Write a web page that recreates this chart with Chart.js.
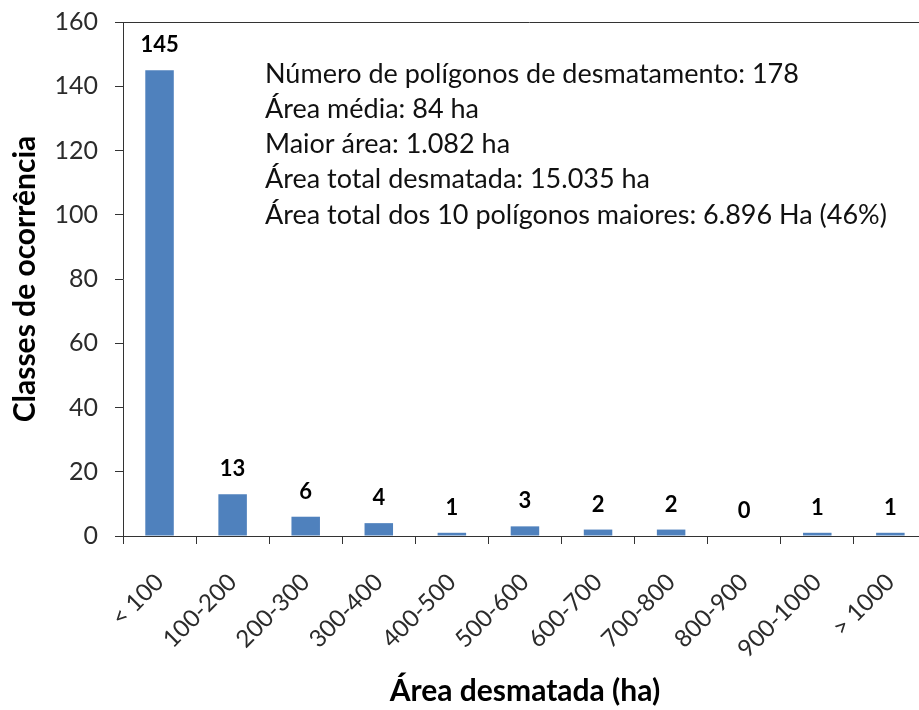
<!DOCTYPE html>
<html>
<head>
<meta charset="utf-8">
<script src="https://cdn.jsdelivr.net/npm/chart.js@4.4.1/dist/chart.umd.min.js"></script>
<style>
  html, body { margin: 0; padding: 0; background: #fff; overflow: hidden; }
  #wrap { width: 935px; height: 710px; }
</style>
</head>
<body>
<div id="wrap"><canvas id="chart"></canvas></div>
<script>
// classes de área (ha) e número de polígonos em cada classe
const categories = ["< 100", "100-200", "200-300", "300-400", "400-500", "500-600",
                    "600-700", "700-800", "800-900", "900-1000", "> 1000"];
const counts = [145, 13, 6, 4, 1, 3, 2, 2, 0, 1, 1];
const yMax = 160;
const yStep = 20;
const notes = [
  "Número de polígonos de desmatamento: 178",
  "Área média: 84 ha",
  "Maior área: 1.082 ha",
  "Área total desmatada: 15.035 ha",
  "Área total dos 10 polígonos maiores: 6.896 Ha (46%)",
];

const axisColor = "#333";
const textColor = "#2b2b2b";

const extras = {
  id: "extras",
  afterDraw(chart) {
    const { ctx, chartArea: a } = chart;
    ctx.save();
    // top frame line
    ctx.strokeStyle = axisColor;
    ctx.lineWidth = 1;
    ctx.beginPath();
    ctx.moveTo(a.left, a.top + 0.5);
    ctx.lineTo(a.right + 10, a.top + 0.5);
    ctx.stroke();

    // value labels above bars
    const meta = chart.getDatasetMeta(0);
    ctx.font = "bold 22px Lato";
    ctx.fillStyle = "#000";
    ctx.textAlign = "center";
    ctx.textBaseline = "middle";
    meta.data.forEach((bar, i) => ctx.fillText(String(counts[i]), bar.x, bar.y - 25));

    // summary text
    ctx.font = "27px Lato";
    ctx.fillStyle = "#111";
    ctx.textAlign = "left";
    notes.forEach((t, i) => ctx.fillText(t, a.left + 142, a.top + 52 + i * 35.25));
    ctx.restore();
  },
};

new Chart(document.getElementById("chart"), {
  type: "bar",
  data: {
    labels: categories,
    datasets: [{
      data: counts,
      backgroundColor: "#4F81BD",
      borderWidth: 0,
      barPercentage: 0.39,
      categoryPercentage: 1,
    }],
  },
  options: {
    responsive: true,
    maintainAspectRatio: false,
    animation: false,
    devicePixelRatio: 1,
    layout: { padding: { top: 22, right: 6, left: 0, bottom: 0 } },
    plugins: { legend: { display: false }, tooltip: { enabled: false } },
    scales: {
      x: {
        grid: { drawOnChartArea: false, drawTicks: true, tickLength: 8, tickColor: axisColor, offset: true },
        border: { color: axisColor, width: 1 },
        ticks: { minRotation: 45, maxRotation: 45, color: textColor, font: { family: "Lato", size: 24 }, padding: 24 },
        title: { display: true, text: "Área desmatada (ha)", color: "#000",
                 font: { family: "Lato", size: 30, weight: "bold" }, padding: { top: 0, bottom: 1 } },
        afterFit: (s) => { s.height = 174; },
      },
      y: {
        min: 0,
        max: yMax,
        grid: { drawOnChartArea: false, drawTicks: true, tickLength: 8, tickColor: axisColor },
        border: { color: axisColor, width: 1 },
        ticks: { stepSize: yStep, color: textColor, font: { family: "Lato", size: 25 }, padding: 17 },
        title: { display: true, text: "Classes de ocorrência", color: "#000",
                 font: { family: "Lato", size: 30, weight: "bold" }, padding: { top: 7, bottom: 0 } },
        afterFit: (s) => { s.width = 123; s.paddingTop = 0; s.paddingBottom = 0; },
      },
    },
  },
  plugins: [extras],
});
</script>
</body>
</html>
